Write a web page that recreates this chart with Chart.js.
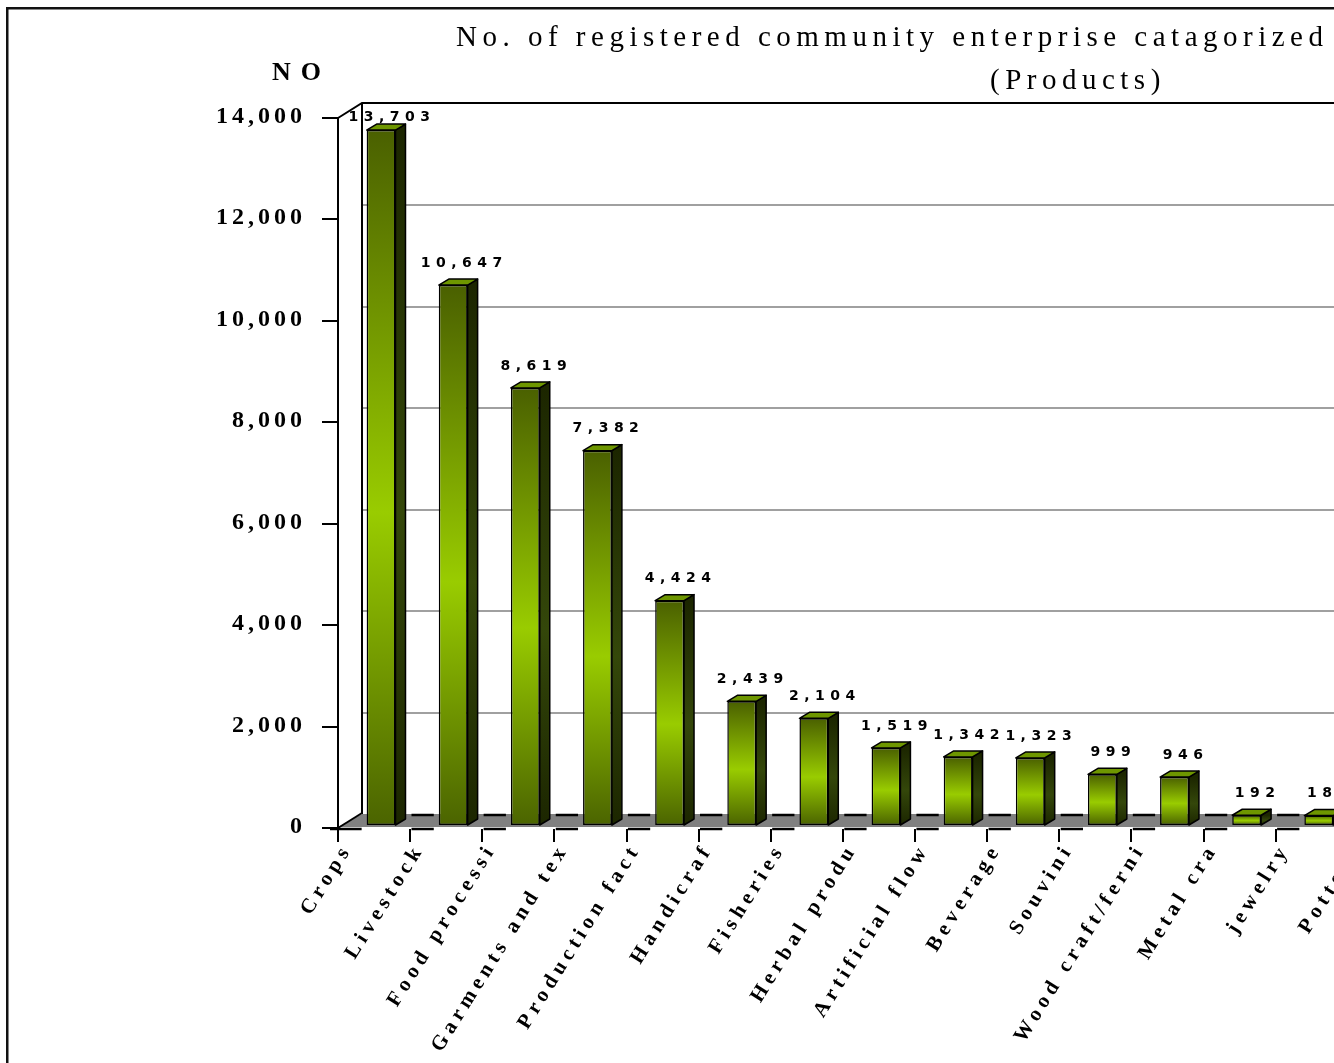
<!DOCTYPE html>
<html><head><meta charset="utf-8">
<script src="https://cdn.jsdelivr.net/npm/chart.js@4/dist/chart.umd.min.js"></script>
<style>html,body{margin:0;padding:0;overflow:hidden;background:#fff;width:1334px;height:1063px}canvas{display:block}</style>
</head><body>
<canvas id="c" width="1420" height="1063" style="width:1420px;height:1063px"></canvas>
<script>
const titleLine1 = "No. of registered community enterprise catagorized";
const titleLine2 = "(Products)";
const yAxisTitle = "NO";
const categories = ["Crops","Livestock","Food processi","Garments and tex","Production fact","Handicraf","Fisheries","Herbal produ","Artificial flow","Beverage","Souvini","Wood craft/ferni","Metal cra","jewelry","Pottery"];
const values = [13703,10647,8619,7382,4424,2439,2104,1519,1342,1323,999,946,192,185,null];
const yTicks = [0,2000,4000,6000,8000,10000,12000,14000];

const DX = 7, DY = -3;      // bar plane offset from front plane
const BDX = 24, BDY = -14;  // back wall offset
const SDX = 10, SDY = -6;   // bar depth

function line(ctx, x1, y1, x2, y2){ ctx.beginPath(); ctx.moveTo(x1,y1); ctx.lineTo(x2,y2); ctx.stroke(); }

function barBoxes(chart){
  const meta = chart.getDatasetMeta(0);
  const out = [];
  meta.data.forEach((el,i)=>{
    if (values[i] == null) return;
    const p = el.getProps(['x','y','base','width'], true);
    out.push({l: p.x - p.width/2 + DX, r: p.x + p.width/2 + DX + SDX});
  });
  return out;
}

const plugin3d = {
  id: 'threeD',
  beforeDatasetsDraw(chart){
    const {ctx, chartArea: a, scales: {y}} = chart;
    const W = chart.width;
    ctx.save();
    // outer frame
    ctx.fillStyle = '#111';
    ctx.fillRect(6, 7, W, 2.5);
    ctx.fillRect(6, 7, 2.5, 1063);
    // back wall gridlines
    ctx.strokeStyle = '#a0a0a0'; ctx.lineWidth = 2;
    yTicks.forEach(v => {
      if (v === 0 || v === 14000) return;
      const py = Math.round(y.getPixelForValue(v) + BDY);
      line(ctx, a.left + BDX, py, W, py);
    });
    // walls
    ctx.strokeStyle = '#000'; ctx.lineWidth = 2;
    const topBack = a.top - 15;
    line(ctx, a.left + BDX, topBack, a.left + BDX, a.bottom - 14);
    ctx.beginPath(); ctx.moveTo(a.left, a.top); ctx.lineTo(a.left + BDX, topBack); ctx.lineTo(W, topBack); ctx.stroke();
    // floor
    ctx.fillStyle = '#808080';
    ctx.beginPath();
    ctx.moveTo(a.left, a.bottom - 1); ctx.lineTo(a.left + BDX, a.bottom - 14); ctx.lineTo(W, a.bottom - 14); ctx.lineTo(W, a.bottom - 1); ctx.closePath(); ctx.fill();
    line(ctx, a.left, a.bottom, a.left + BDX, a.bottom - 15);
    // floor edge dashes between bars
    const boxes = barBoxes(chart);
    ctx.lineWidth = 2.5;
    let prevTop = a.left + BDX, prevBot = a.left - 8;
    boxes.forEach(b => {
      if (b.l - 5 > prevTop) line(ctx, prevTop, a.bottom - 13, b.l - 5, a.bottom - 13);
      if (b.l - 5 > prevBot) line(ctx, prevBot, a.bottom + 1, b.l - 5, a.bottom + 1);
      prevTop = b.r + 6; prevBot = b.r + 6;
    });
    line(ctx, prevTop, a.bottom - 13, W, a.bottom - 13);
    line(ctx, prevBot, a.bottom + 1, W, a.bottom + 1);
    ctx.restore();
    ctx.save();
    ctx.translate(DX, DY);
  },
  afterDatasetsDraw(chart){
    const {ctx} = chart;
    const meta = chart.getDatasetMeta(0);
    ctx.lineWidth = 1.5; ctx.strokeStyle = '#000'; ctx.lineJoin = 'round';
    meta.data.forEach((el,i) => {
      if (values[i] == null) return;
      const p = el.getProps(['x','y','base','width'], true);
      const l = p.x - p.width/2, r = p.x + p.width/2;
      // side face
      const sg = ctx.createLinearGradient(0, p.y, 0, p.base);
      sg.addColorStop(0, '#1c2600'); sg.addColorStop(0.55, '#34470a'); sg.addColorStop(1, '#1c2600');
      ctx.fillStyle = sg;
      ctx.beginPath(); ctx.moveTo(r, p.y); ctx.lineTo(r + SDX, p.y + SDY); ctx.lineTo(r + SDX, p.base + SDY); ctx.lineTo(r, p.base); ctx.closePath(); ctx.fill(); ctx.stroke();
      // top face
      ctx.fillStyle = '#6e9600';
      ctx.beginPath(); ctx.moveTo(l, p.y); ctx.lineTo(l + SDX, p.y + SDY); ctx.lineTo(r + SDX, p.y + SDY); ctx.lineTo(r, p.y); ctx.closePath(); ctx.fill(); ctx.stroke();
    });
    ctx.restore();
  },
  afterDraw(chart){
    const {ctx, chartArea: a, scales: {x, y}} = chart;
    const meta = chart.getDatasetMeta(0);
    ctx.save();
    ctx.fillStyle = '#000'; ctx.strokeStyle = '#000'; ctx.lineWidth = 2;
    // front y axis
    line(ctx, a.left, a.top, a.left, a.bottom + 14);
    line(ctx, a.left - 16, a.bottom, a.left, a.bottom);
    // y ticks + labels
    ctx.font = 'bold 24px "Liberation Serif"';
    ctx.letterSpacing = '4px';
    ctx.textAlign = 'right'; ctx.textBaseline = 'middle';
    yTicks.forEach(v => {
      const py = Math.round(y.getPixelForValue(v));
      line(ctx, a.left - 16, py, a.left, py);
      ctx.fillText(v.toLocaleString('en-US'), a.left - 32, py - 1);
    });
    // y axis title
    ctx.font = 'bold 26px "Liberation Serif"';
    ctx.letterSpacing = '10px';
    ctx.textAlign = 'left'; ctx.textBaseline = 'alphabetic';
    ctx.fillText(yAxisTitle, 272, 80);
    // x tick marks at category boundaries
    const step = (a.right - a.left) / categories.length;
    for (let k = 1; k <= categories.length; k++) {
      const px = Math.round(a.left + k * step);
      line(ctx, px, a.bottom + 1, px, a.bottom + 14);
    }
    // x labels
    ctx.font = 'bold 21px "Liberation Serif"';
    ctx.letterSpacing = '5px';
    ctx.textAlign = 'right'; ctx.textBaseline = 'middle';
    categories.forEach((c, i) => {
      const px = x.getPixelForValue(i);
      ctx.save();
      ctx.translate(px - 29, 850);
      ctx.rotate(-58 * Math.PI / 180);
      ctx.fillText(c, 5, 0);
      ctx.restore();
    });
    // value labels
    ctx.font = 'bold 14px "DejaVu Sans"';
    ctx.letterSpacing = '5.5px';
    ctx.textAlign = 'center'; ctx.textBaseline = 'middle';
    meta.data.forEach((el, i) => {
      if (values[i] == null) return;
      const p = el.getProps(['x','y'], true);
      const lx = p.x + DX + 8 + 3;
      const ly = Math.max(117, p.y + DY + SDY - 16);
      ctx.fillText(values[i].toLocaleString('en-US'), lx, ly);
    });
    // title
    ctx.font = '29px "Liberation Serif"';
    ctx.letterSpacing = '5.5px';
    ctx.textAlign = 'left'; ctx.textBaseline = 'alphabetic';
    ctx.fillText(titleLine1, 456, 46);
    ctx.fillText(titleLine2, 990, 89);
    ctx.restore();
  }
};

new Chart(document.getElementById('c'), {
  type: 'bar',
  data: {
    labels: categories,
    datasets: [{
      data: values,
      barPercentage: 0.4,
      categoryPercentage: 1,
      borderColor: '#000',
      borderWidth: 1.5,
      borderSkipped: false,
      backgroundColor: (c) => {
        const chart = c.chart;
        const y = chart.scales.y;
        if (!y || c.raw == null) return '#8fbf00';
        const top = y.getPixelForValue(c.raw), base = y.getPixelForValue(0);
        if (!isFinite(top) || !isFinite(base) || top === base) return '#8fbf00';
        const g = chart.ctx.createLinearGradient(0, top, 0, base);
        g.addColorStop(0, '#4a6000');
        g.addColorStop(0.55, '#99cc00');
        g.addColorStop(1, '#4b6400');
        return g;
      }
    }]
  },
  options: {
    responsive: false,
    devicePixelRatio: 1,
    animation: false,
    layout: { padding: { top: 118, right: 0, left: 0, bottom: 0 } },
    plugins: { legend: { display: false }, title: { display: false }, tooltip: { enabled: false } },
    scales: {
      x: {
        ticks: { display: false },
        grid: { display: false },
        border: { display: false },
        afterFit: (s) => { s.height = 235; }
      },
      y: {
        min: 0, max: 14000,
        ticks: { display: false, stepSize: 2000 },
        grid: { display: false },
        border: { display: false },
        afterFit: (s) => { s.width = 338; }
      }
    }
  },
  plugins: [plugin3d]
});
</script>
</body></html>
